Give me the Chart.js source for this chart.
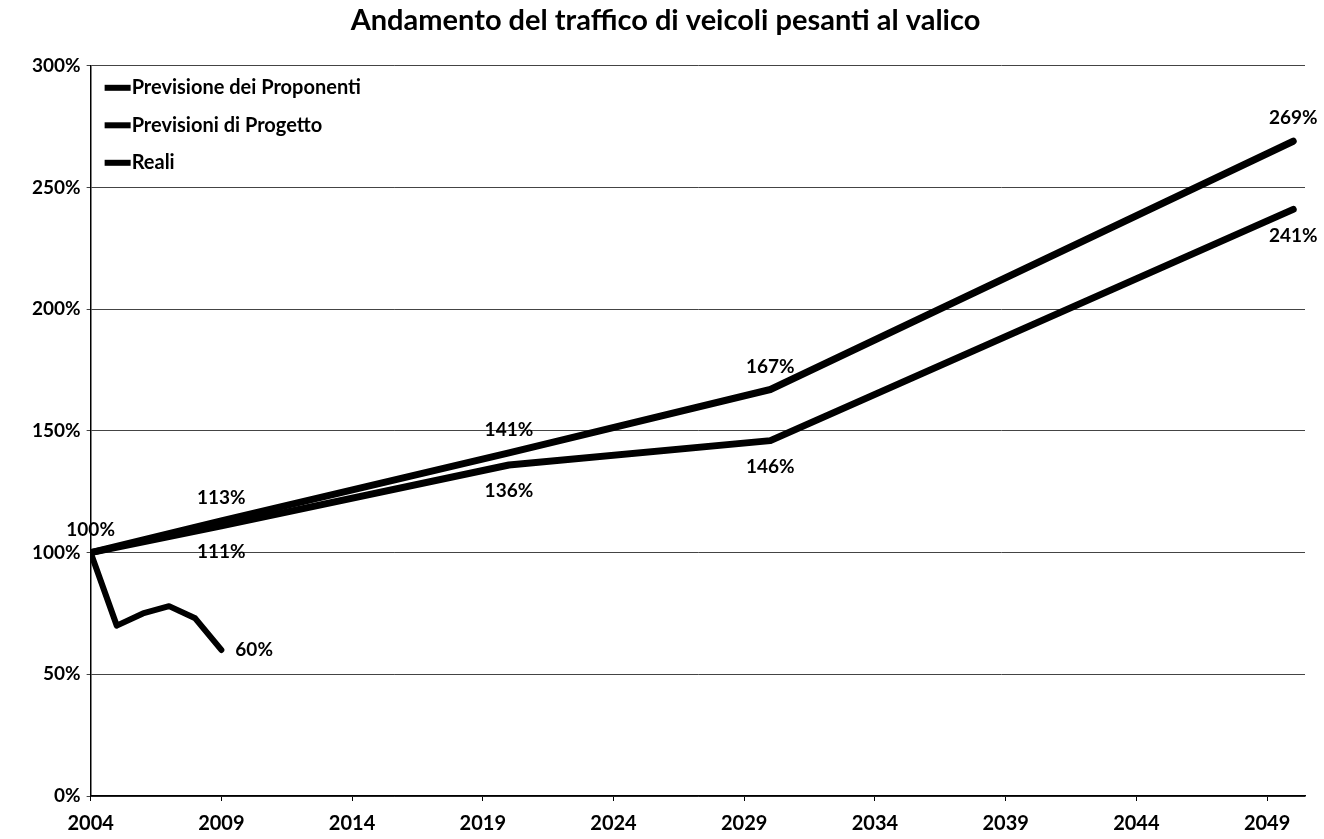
<!DOCTYPE html>
<html>
    <head>
        <title>Andamento del traffico di veicoli pesanti al valico</title>
        <script src="https://cdn.jsdelivr.net/npm/chart.js@4.4.0/dist/chart.umd.min.js"></script>
        <style>
            body { margin: 0; background: white; }
            #wrap { width: 1324px; height: 839px; }
        </style>
    </head>
    <body>
    <div id="wrap">
        <canvas id="trafficChart"></canvas>
    </div>

    <script>
        // values
        projYears = [2004, 2009, 2020, 2030, 2050];
        proponenti = [100, 113, 141, 167, 269];
        progetto = [100, 111, 136, 146, 241];
        realiYears = [2004, 2005, 2006, 2007, 2008, 2009];
        reali = [100, 70, 75, 78, 73, 60];
        xTickYears = [2004, 2009, 2014, 2019, 2024, 2029, 2034, 2039, 2044, 2049];
        seriesNames = ['Previsione dei Proponenti', 'Previsioni di Progetto', 'Reali'];

        function pts(xs, ys) {
            return xs.map(function (x, i) { return { x: x, y: ys[i] }; });
        }

        fontFam = "Lato, 'Open Sans', sans-serif";

        // writes the percent next to the points, like the excel data labels
        pointLabels = {
            id: 'pointLabels',
            afterDatasetsDraw: function (chart) {
                var ctx = chart.ctx;
                ctx.save();
                ctx.font = "bold 19px " + fontFam;
                ctx.fillStyle = 'black';
                ctx.textAlign = 'center';
                ctx.textBaseline = 'middle';
                chart.data.datasets.forEach(function (ds, d) {
                    var meta = chart.getDatasetMeta(d);
                    meta.data.forEach(function (p, i) {
                        var txt = ds.data[i].y + '%';
                        if (d == 0) {
                            ctx.fillText(txt, p.x, p.y - 23);
                        } else if (d == 1 && i > 0) {
                            ctx.fillText(txt, p.x, p.y + 26);
                        } else if (d == 2 && i == ds.data.length - 1) {
                            ctx.textAlign = 'left';
                            ctx.fillText(txt, p.x + 14, p.y);
                            ctx.textAlign = 'center';
                        }
                    });
                });
                ctx.restore();
            }
        };

        // legend drawn inside the plot, top left, one row per series
        insideLegend = {
            id: 'insideLegend',
            afterDraw: function (chart) {
                var ctx = chart.ctx;
                var area = chart.chartArea;
                ctx.save();
                ctx.font = "bold 20px " + fontFam;
                ctx.fillStyle = 'black';
                ctx.textAlign = 'left';
                ctx.textBaseline = 'middle';
                chart.data.datasets.forEach(function (ds, d) {
                    var y = area.top + 22 + d * 37.5;
                    ctx.fillRect(area.left + 14, y - 3, 26, 6);
                    ctx.fillText(ds.label, area.left + 41, y);
                });
                ctx.restore();
            }
        };

        ctx = document.getElementById('trafficChart');

        trafficChart = new Chart(ctx, {
            type: 'line',
            data: {
                datasets: [{
                    label: seriesNames[0],
                    data: pts(projYears, proponenti),
                    borderColor: 'black',
                    backgroundColor: 'black',
                    borderWidth: 7
                }, {
                    label: seriesNames[1],
                    data: pts(projYears, progetto),
                    borderColor: 'black',
                    backgroundColor: 'black',
                    borderWidth: 7
                }, {
                    label: seriesNames[2],
                    data: pts(realiYears, reali),
                    borderColor: 'black',
                    backgroundColor: 'black',
                    borderWidth: 6
                }]
            },
            options: {
                responsive: true,
                maintainAspectRatio: false,
                animation: false,
                elements: {
                    point: { radius: 0 },
                    line: { tension: 0, borderJoinStyle: 'round', borderCapStyle: 'round' }
                },
                layout: {
                    padding: { left: 26, right: 19, top: 0, bottom: -8 }
                },
                plugins: {
                    title: {
                        display: true,
                        text: 'Andamento del traffico di veicoli pesanti al valico',
                        color: 'black',
                        font: { family: fontFam, size: 29, weight: 'bold' },
                        padding: { top: 3, bottom: 28 }
                    },
                    legend: { display: false },
                    tooltip: { enabled: false }
                },
                scales: {
                    x: {
                        type: 'linear',
                        min: 2004,
                        max: 2050.45,
                        afterBuildTicks: function (axis) {
                            axis.ticks = xTickYears.map(function (v) { return { value: v }; });
                        },
                        ticks: {
                            color: 'black',
                            font: { family: fontFam, size: 20, weight: 'bold' },
                            maxRotation: 0,
                            autoSkip: false,
                            padding: 11,
                            callback: function (v) { return String(v); }
                        },
                        grid: { drawOnChartArea: false, color: 'black', tickLength: 5 },
                        border: { color: 'black', width: 1.5 }
                    },
                    y: {
                        min: 0,
                        max: 300,
                        ticks: {
                            stepSize: 50,
                            color: 'black',
                            font: { family: fontFam, size: 19, weight: 'bold' },
                            padding: 6,
                            callback: function (v) { return v + '%'; }
                        },
                        grid: { color: '#444', lineWidth: 1, tickLength: 4 },
                        border: { color: 'black', width: 1.5 }
                    }
                }
            },
            plugins: [pointLabels, insideLegend]
        });
    </script>
    </body>
</html>
